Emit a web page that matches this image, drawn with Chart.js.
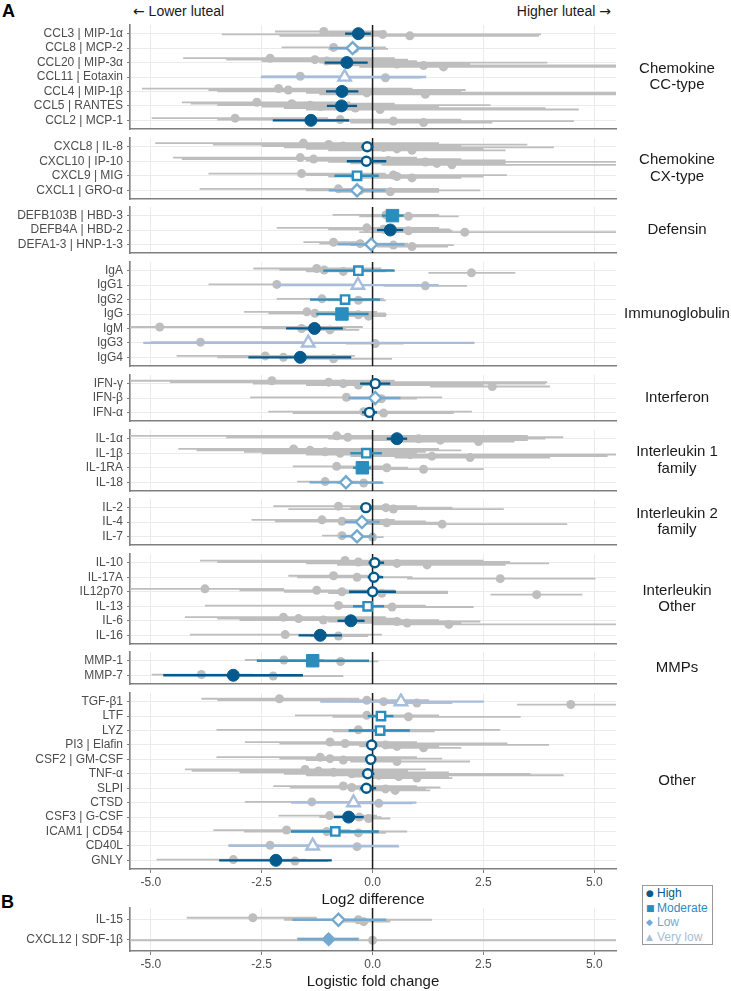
<!DOCTYPE html>
<html>
<head>
<meta charset="utf-8">
<script src="https://cdn.jsdelivr.net/npm/chart.js@4.4.1/dist/chart.umd.min.js"></script>
<style>
  body { margin: 0; background: #fff; }
  #page { position: relative; width: 731px; height: 991px; overflow: hidden; font-family: "Liberation Sans", Arial, Helvetica, sans-serif; }
  #page canvas { position: absolute; left: 0; }
  .txt { position: absolute; white-space: nowrap; }
  .tag { font-size: 18px; line-height: 18px; font-weight: bold; color: #000; }
  .dir { font-size: 14px; line-height: 14px; color: #1a1a1a; top: 4px; }
  .arr { font-family: "DejaVu Sans", sans-serif; font-size: 14px; }
  #legend { position: absolute; left: 642px; top: 885px; width: 69px; height: 58px; border: 1px solid #9a9a9a; font-size: 12px; overflow: hidden; }
  #legend div { padding-left: 3px; height: 14.5px; line-height: 14.5px; }
  #legend .sym { display: inline-block; width: 11px; font-family: "DejaVu Sans", sans-serif; font-size: 9px; line-height: 10px; vertical-align: 1px; }
</style>
</head>
<body>
<div id="page">
  <div class="txt tag" style="left:2px;top:2px">A</div>
  <div class="txt tag" style="left:1px;top:893px">B</div>
  <div class="txt dir" style="left:133px"><span class="arr">←</span> Lower luteal</div>
  <div class="txt dir" style="right:120px">Higher luteal <span class="arr">→</span></div>
  <div id="legend">
    <div style="color:#045a8d"><span class="sym">●</span>High</div>
    <div style="color:#2b8cbe"><span class="sym">■</span>Moderate</div>
    <div style="color:#74a9cf"><span class="sym">◆</span>Low</div>
    <div style="color:#a6bddb"><span class="sym">▲</span>Very low</div>
  </div>
</div>
<script>
// ---- data (panel A) ----
const facets = ['Chemokine\nCC-type', 'Chemokine\nCX-type', 'Defensin', 'Immunoglobulin', 'Interferon',
  'Interleukin 1\nfamily', 'Interleukin 2\nfamily', 'Interleukin\nOther', 'MMPs', 'Other'];
const facetSizes = [7, 4, 3, 7, 3, 4, 3, 6, 2, 12];

const analytes = [
  'CCL3 | MIP-1α', 'CCL8 | MCP-2', 'CCL20 | MIP-3α', 'CCL11 | Eotaxin', 'CCL4 | MIP-1β', 'CCL5 | RANTES', 'CCL2 | MCP-1',
  'CXCL8 | IL-8', 'CXCL10 | IP-10', 'CXCL9 | MIG', 'CXCL1 | GRO-α',
  'DEFB103B | HBD-3', 'DEFB4A | HBD-2', 'DEFA1-3 | HNP-1-3',
  'IgA', 'IgG1', 'IgG2', 'IgG', 'IgM', 'IgG3', 'IgG4',
  'IFN-γ', 'IFN-β', 'IFN-α',
  'IL-1α', 'IL-1β', 'IL-1RA', 'IL-18',
  'IL-2', 'IL-4', 'IL-7',
  'IL-10', 'IL-17A', 'IL12p70', 'IL-13', 'IL-6', 'IL-16',
  'MMP-1', 'MMP-7',
  'TGF-β1', 'LTF', 'LYZ', 'PI3 | Elafin', 'CSF2 | GM-CSF', 'TNF-α', 'SLPI', 'CTSD', 'CSF3 | G-CSF', 'ICAM1 | CD54', 'CD40L', 'GNLY'
];
const estimate = [
  -0.32, -0.45, -0.58, -0.63, -0.69, -0.70, -1.39,
  -0.12, -0.14, -0.35, -0.35,
  0.45, 0.40, -0.03,
  -0.32, -0.33, -0.62, -0.69, -1.31, -1.45, -1.63,
  0.06, 0.06, -0.07,
  0.55, -0.14, -0.23, -0.60,
  -0.15, -0.24, -0.35,
  0.05, 0.03, 0.00, -0.11, -0.49, -1.18,
  -1.35, -3.14,
  0.64, 0.19, 0.17, -0.02, -0.04, -0.11, -0.14, -0.43, -0.54, -0.84, -1.35, -2.18
];
const ciLow = [
  -0.62, -0.96, -1.08, -2.52, -1.05, -1.03, -2.25,
  -0.25, -0.58, -0.86, -0.99,
  0.21, 0.10, -0.79,
  -1.11, -2.16, -1.41, -1.27, -1.95, -5.17, -2.80,
  -0.28, -0.54, -0.24,
  0.32, -0.50, -0.44, -1.42,
  -0.28, -0.63, -0.73,
  -0.09, -0.11, -0.53, -0.44, -0.79, -1.67,
  -2.61, -4.72,
  -1.18, -0.11, -0.54, -0.15, -0.17, -0.24, -0.28, -1.84, -0.87, -1.84, -3.25, -3.46
];
const ciHigh = [
  -0.04, 0.05, -0.11, 1.21, -0.32, -0.35, -0.53,
  0.02, 0.31, 0.14, 0.29,
  0.70, 0.69, 0.72,
  0.50, 1.49, 0.17, -0.09, -0.67, 2.30, -0.48,
  0.40, 0.63, 0.10,
  0.78, 0.21, -0.04, 0.23,
  0.00, 0.16, 0.06,
  0.26, 0.24, 0.53, 0.26, -0.18, -0.69,
  -0.08, -1.57,
  2.51, 0.47, 0.84, 0.10, 0.08, 0.04, 0.08, 0.99, -0.20, 0.14, 0.59, -0.92
];
const certainty = [
  'High', 'Low', 'High', 'Very low', 'High', 'High', 'High',
  'High', 'High', 'Moderate', 'Low',
  'Moderate', 'High', 'Low',
  'Moderate', 'Very low', 'Moderate', 'Moderate', 'High', 'Very low', 'High',
  'High', 'Low', 'High',
  'High', 'Moderate', 'Moderate', 'Low',
  'High', 'Low', 'Low',
  'High', 'High', 'High', 'Moderate', 'High', 'High',
  'Moderate', 'High',
  'Very low', 'Moderate', 'Moderate', 'High', 'High', 'High', 'High', 'Very low', 'High', 'Moderate', 'Very low', 'High'
];
const significant = [
  1, 0, 1, 0, 1, 1, 1,
  0, 0, 0, 0,
  1, 1, 0,
  0, 0, 0, 1, 1, 0, 1,
  0, 0, 0,
  1, 0, 1, 0,
  0, 0, 0,
  0, 0, 0, 0, 1, 1,
  1, 1,
  0, 0, 0, 0, 0, 0, 0, 0, 1, 0, 0, 1
];
// individual studies per analyte: [estimate, low, high]
const studies = [
  [[-1.1, -2.2, 0.3], [-0.35, -1.0, 0.2], [0.23, -3.4, 3.8], [0.84, -2.1, 3.75]],
  [[-0.88, -2.05, 0.3], [-0.4, -1.0, 0.35]],
  [[-2.31, -4.27, 0.5], [-1.3, -3.3, 0.8], [-1.03, -2.5, 1.0], [0.32, -1.2, 3.94], [0.55, -1.0, 2.2], [1.15, -0.5, 5.5], [1.6, -0.3, 5.5]],
  [[-1.63, -2.5, -0.7], [0.29, -0.6, 1.1]],
  [[-2.12, -5.2, 0.9], [-1.9, -3.7, 2.1], [-0.6, -3.5, 2.0], [-0.13, -1.5, 5.5], [1.19, -1.2, 5.5]],
  [[-2.61, -4.3, -0.5], [-1.82, -4.1, 0.5], [-1.41, -3.5, 2.66], [-1.18, -2.5, 1.5], [-0.39, -2.0, 3.9], [0.17, -1.5, 4.65]],
  [[-3.1, -4.98, -1.0], [-0.73, -3.5, 2.0], [0.47, -1.5, 4.54], [1.15, -0.5, 2.7]],
  [[-1.56, -4.9, 1.5], [-0.99, -3.6, 3.49], [-0.66, -2.5, 2.0], [0.25, -2.0, 4.09], [0.55, -1.5, 2.5], [0.89, -1.0, 3.0]],
  [[-1.63, -4.5, 1.0], [-1.33, -4.3, 2.0], [0.36, -1.5, 3.0], [1.19, -1.0, 5.5], [1.45, -0.5, 3.0], [1.79, 0.2, 5.5]],
  [[-1.6, -3.7, 0.3], [0.47, -1.5, 3.03], [0.55, -1.0, 2.5], [0.89, -0.5, 2.0]],
  [[-0.77, -3.9, 1.5], [-0.28, -1.5, 2.43], [0.4, -0.8, 1.5]],
  [[0.3, -0.9, 1.5], [0.81, -0.3, 1.94]],
  [[-0.13, -2.16, 1.5], [0.25, -1.0, 1.75], [0.81, 0.0, 1.8], [2.08, -0.3, 5.5]],
  [[-0.88, -1.56, -0.2], [-0.28, -1.2, 0.8], [0.47, -0.5, 1.83], [0.89, 0.1, 1.7]],
  [[-1.26, -2.69, 0.2], [-1.09, -2.1, 0.47], [-0.66, -1.5, 0.3], [2.23, 1.26, 3.22]],
  [[-2.16, -3.7, -0.4], [1.19, 0.25, 2.13]],
  [[-1.14, -2.16, 0.25], [-0.32, -1.0, 0.3]],
  [[-1.48, -2.9, 0.1], [-1.3, -2.35, 0.3], [-0.32, -0.9, 0.32], [-0.09, -0.6, 0.3]],
  [[-4.8, -5.5, -0.22], [-1.6, -2.5, -0.6], [-0.96, -1.6, -0.3]],
  [[-3.88, -5.0, -1.5], [0.06, -0.6, 0.7]],
  [[-2.42, -4.42, -0.4], [-2.01, -3.5, -0.5], [-0.88, -1.5, 0.44]],
  [[-2.27, -5.5, 0.5], [-0.99, -4.57, 3.94], [-0.66, -2.7, 3.9], [-0.32, -1.5, 2.5], [2.7, 1.3, 4.0]],
  [[-0.59, -2.76, 1.57], [0.2, -0.5, 1.0]],
  [[-0.2, -2.35, 2.24], [0.25, -1.8, 1.83]],
  [[-0.81, -5.5, 3.5], [-0.56, -3.3, 4.3], [1.04, -1.0, 3.9], [1.53, 0.0, 3.5], [2.39, 0.5, 3.2]],
  [[-1.78, -4.38, 1.5], [-1.41, -3.97, 2.0], [-1.07, -2.9, 1.2], [-0.73, -2.5, 1.0], [0.85, -1.5, 5.5], [1.34, -0.5, 5.3], [2.2, 0.5, 4.0]],
  [[-0.81, -1.8, 0.3], [0.32, -0.9, 0.8], [1.15, -0.3, 2.51]],
  [[-1.07, -1.7, -0.3], [-0.2, -0.8, 0.25]],
  [[-0.77, -2.24, 1.0], [0.3, -0.5, 1.8], [0.47, -1.9, 2.96]],
  [[-1.14, -2.73, 0.5], [-0.69, -2.2, 1.2], [0.32, -0.6, 1.5], [1.57, -0.3, 4.39]],
  [[-0.69, -1.14, -0.2], [0.0, -0.4, 0.25]],
  [[-0.62, -3.89, 2.5], [-0.32, -3.5, 3.1], [0.55, -1.5, 3.98], [1.23, -0.8, 3.0]],
  [[-0.88, -1.9, 0.2], [-0.35, -1.7, 0.9], [2.88, 0.78, 5.03]],
  [[-3.78, -5.5, -2.0], [-1.26, -3.0, 0.5], [-0.69, -2.0, 1.7], [0.21, -1.0, 1.7], [3.7, 2.66, 4.73]],
  [[-0.77, -3.78, 1.2], [0.44, -0.8, 2.28]],
  [[-2.01, -4.23, 0.3], [-1.67, -3.5, 0.5], [-1.11, -3.0, 1.5], [0.55, -1.0, 2.43], [0.78, -0.5, 2.0], [1.72, 0.0, 5.5]],
  [[-1.97, -4.12, 0.21], [-0.77, -1.4, -0.1]],
  [[-2.0, -2.88, -1.1], [-0.72, -1.3, 0.13]],
  [[-3.86, -4.98, -2.7], [-2.24, -3.0, -0.66]],
  [[-2.1, -3.86, -0.3], [-0.13, -3.5, 1.27], [0.25, -0.5, 1.0], [1.0, 0.2, 1.8], [4.47, 3.26, 5.5]],
  [[-0.13, -1.75, 1.5], [0.81, -0.9, 3.34]],
  [[-0.32, -3.52, 2.88], [0.2, -0.9, 1.4]],
  [[-0.96, -2.88, 1.0], [-0.62, -2.1, 3.04], [0.29, -1.0, 3.98], [0.55, -0.3, 1.5], [1.15, 0.3, 2.0]],
  [[-1.18, -3.52, 1.0], [-0.96, -2.1, 1.57], [-0.66, -1.5, 0.5], [0.55, -0.5, 2.2]],
  [[-1.52, -4.23, 1.2], [-1.22, -4.08, 0.8], [-0.88, -3.0, 1.72], [-0.47, -2.0, 3.56], [0.14, -1.5, 4.31], [0.59, -0.5, 1.72], [1.0, 0.0, 1.8]],
  [[-0.66, -2.24, 1.0], [-0.47, -1.86, 1.53], [0.29, -0.5, 1.2], [0.51, -0.3, 1.3]],
  [[-1.37, -2.88, 0.0], [0.14, -0.5, 0.9]],
  [[-0.97, -2.12, 0.1], [-0.3, -1.2, 0.2], [-0.09, -0.6, 0.4]],
  [[-1.94, -3.59, -0.5], [-1.03, -2.9, 0.78], [-0.32, -0.9, 0.3]],
  [[-2.31, -3.25, -1.2], [-0.35, -1.2, 0.6]],
  [[-3.14, -4.87, -1.5], [-1.75, -2.3, -1.0]]
];

// ---- data (panel B) ----
const bAnalytes = ['IL-15', 'CXCL12 | SDF-1β'];
const bEstimate = [-0.77, -0.99];
const bLow = [-1.81, -1.69];
const bHigh = [0.31, -0.32];
const bCertainty = ['Low', 'Low'];
const bSignificant = [0, 1];
const bStudies = [
  [[-2.7, -4.19, -1.26], [-0.32, -2.0, 1.34], [-0.2, -0.8, 0.4]],
  [[-1.0, -1.7, -0.3], [0.0, -5.5, 5.5]]
];

const xTicks = [-5, -2.5, 0, 2.5, 5];

// ---- look ----
const FONT = '"Liberation Sans", Arial, Helvetica, sans-serif';
const PAGE_W = 731, PLOT_LEFT = 130, PLOT_RIGHT = 616, STRIP_X = 677;
const X_MIN = -5.47, X_MAX = 5.49;
const ROW_A = 14.45, GAP_A = 8.7, TOP_A = 25;
const PAD = 14;          // spare room above/below each panel so tick labels never squeeze it
const DODGE = 0.1;
const GREY = '#bebebe';
const certColor = { 'High': '#045a8d', 'Moderate': '#2b8cbe', 'Low': '#74a9cf', 'Very low': '#a6bddb' };
const certShape = { 'High': 'circle', 'Moderate': 'rect', 'Low': 'rectRot', 'Very low': 'triangle' };
const shapeRadius = {
  circle: [4.5, 6], rect: [5.9, 8.8], rectRot: [6, 6.8], triangle: [7.2, 8.5]
};

const zeroLine = {
  id: 'zeroLine',
  afterDatasetDraw(chart, args) {
    if (chart.data.datasets[args.index].role !== 'greyDots') return;
    const {ctx, chartArea} = chart;
    const x = chart.scales.x.getPixelForValue(0);
    ctx.save();
    ctx.strokeStyle = '#1a1a1a';
    ctx.lineWidth = 1.5;
    ctx.beginPath();
    ctx.moveTo(x, chartArea.top);
    ctx.lineTo(x, chartArea.bottom);
    ctx.stroke();
    ctx.restore();
  }
};

function stripPlugin(text) {
  return {
    id: 'strip',
    afterDraw(chart) {
      if (!text) return;
      const {ctx, chartArea} = chart;
      const lines = text.split('\n');
      const cy = (chartArea.top + chartArea.bottom) / 2;
      ctx.save();
      ctx.font = '15px ' + FONT;
      ctx.fillStyle = '#1a1a1a';
      ctx.textAlign = 'center';
      ctx.textBaseline = 'middle';
      lines.forEach((l, j) => ctx.fillText(l, STRIP_X, cy + (j - (lines.length - 1) / 2) * 16.7));
      ctx.restore();
    }
  };
}

function facetChart(cfg) {
  const n = cfg.labels.length;
  const plotH = (n + 0.2) * cfg.rowH;
  const axisH = cfg.axisTitle ? 40 : 0;
  const padBottom = cfg.axisTitle ? 2 : PAD;
  const canvas = document.createElement('canvas');
  canvas.width = PAGE_W;
  canvas.height = Math.round(PAD + plotH + axisH + padBottom);
  canvas.style.top = (cfg.top - PAD) + 'px';
  document.getElementById('page').appendChild(canvas);

  const ciPts = [], greyLinePts = [], greyDotPts = [];
  cfg.labels.forEach((_, i) => {
    ciPts.push({x: cfg.lo[i], y: i}, {x: cfg.hi[i], y: i}, {x: null, y: null});
    const s = cfg.studies[i];
    s.forEach((st, k) => {
      const y = i + (k - (s.length - 1) / 2) * DODGE;
      greyLinePts.push({x: st[1], y: y}, {x: st[2], y: y}, {x: null, y: null});
      greyDotPts.push({x: st[0], y: y});
    });
  });

  const certOf = c => cfg.cert[c.dataIndex] || 'High';
  const radiusOf = c => shapeRadius[certShape[certOf(c)]][cfg.filled[c.dataIndex] ? 1 : 0];

  new Chart(canvas, {
    type: 'scatter',
    data: {
      datasets: [{
        role: 'marker', order: 0, showLine: false,
        data: cfg.est.map((v, i) => ({x: v, y: i})),
        pointStyle: c => certShape[certOf(c)],
        pointRadius: radiusOf,
        pointHoverRadius: radiusOf,
        pointBorderColor: c => certColor[certOf(c)],
        pointBackgroundColor: c => cfg.filled[c.dataIndex] ? certColor[certOf(c)] : '#ffffff',
        pointBorderWidth: c => cfg.filled[c.dataIndex] ? 1 : 2.4
      }, {
        role: 'ci', order: 1, showLine: true, spanGaps: false,
        data: ciPts,
        pointRadius: 0, pointHoverRadius: 0,
        borderWidth: 2.3, borderColor: certColor.High, borderCapStyle: 'butt',
        segment: { borderColor: c => certColor[cfg.cert[Math.floor(c.p0DataIndex / 3)]] }
      }, {
        role: 'greyDots', order: 2, showLine: false,
        data: greyDotPts,
        pointRadius: 4.5, pointHoverRadius: 4.5, pointBorderWidth: 0,
        pointBackgroundColor: GREY, pointBorderColor: GREY
      }, {
        role: 'greyLines', order: 3, showLine: true, spanGaps: false,
        data: greyLinePts,
        pointRadius: 0, pointHoverRadius: 0,
        borderWidth: 1.8, borderColor: GREY, borderCapStyle: 'butt'
      }]
    },
    options: {
      responsive: false,
      maintainAspectRatio: false,
      devicePixelRatio: 1,
      animation: false,
      events: [],
      layout: { padding: { left: 0, right: PAGE_W - PLOT_RIGHT, top: PAD, bottom: padBottom } },
      scales: {
        x: {
          type: 'linear', min: X_MIN, max: X_MAX,
          afterBuildTicks: s => { s.ticks = xTicks.map(v => ({value: v})); },
          afterFit: s => { s.height = axisH; },
          grid: { color: '#ebebeb', lineWidth: 1, drawTicks: !!cfg.axisTitle, tickLength: 4, tickColor: '#7f7f7f' },
          border: { display: true, color: '#7f7f7f', width: 1.6 },
          ticks: {
            display: !!cfg.axisTitle, autoSkip: false, maxRotation: 0, padding: 2,
            color: '#4d4d4d', font: { size: 12, family: FONT },
            callback: v => v.toFixed(1)
          },
          title: {
            display: !!cfg.axisTitle, text: cfg.axisTitle || '',
            color: '#1a1a1a', font: { size: 15, family: FONT }, padding: { top: 2, bottom: 0 }
          }
        },
        y: {
          type: 'linear', reverse: true, min: -0.6, max: n - 0.4,
          afterBuildTicks: s => { s.ticks = cfg.labels.map((_, i) => ({value: i})); },
          afterFit: s => { s.width = PLOT_LEFT; },
          grid: { color: '#ebebeb', lineWidth: 1, drawTicks: true, tickLength: 3, tickColor: '#7f7f7f' },
          border: { display: true, color: '#7f7f7f', width: 1.6 },
          ticks: {
            autoSkip: false, padding: 4,
            color: '#4d4d4d', font: { size: 12, family: FONT },
            callback: v => cfg.labels[v]
          }
        }
      },
      plugins: { legend: { display: false }, tooltip: { enabled: false } }
    },
    plugins: [zeroLine, stripPlugin(cfg.strip)]
  });
}

// panel A: one chart per facet, stacked
let rowStart = 0, facetTop = TOP_A;
facets.forEach((name, f) => {
  const rowEnd = rowStart + facetSizes[f];
  const last = f === facets.length - 1;
  facetChart({
    labels: analytes.slice(rowStart, rowEnd),
    est: estimate.slice(rowStart, rowEnd),
    lo: ciLow.slice(rowStart, rowEnd),
    hi: ciHigh.slice(rowStart, rowEnd),
    cert: certainty.slice(rowStart, rowEnd),
    filled: significant.slice(rowStart, rowEnd),
    studies: studies.slice(rowStart, rowEnd),
    strip: name,
    top: facetTop,
    rowH: ROW_A,
    axisTitle: last ? 'Log2 difference' : null
  });
  facetTop += (facetSizes[f] + 0.2) * ROW_A + GAP_A;
  rowStart = rowEnd;
});

// panel B
facetChart({
  labels: bAnalytes, est: bEstimate, lo: bLow, hi: bHigh,
  cert: bCertainty, filled: bSignificant, studies: bStudies,
  strip: null, top: 908, rowH: 19.4, axisTitle: 'Logistic fold change'
});
</script>
</body>
</html>
